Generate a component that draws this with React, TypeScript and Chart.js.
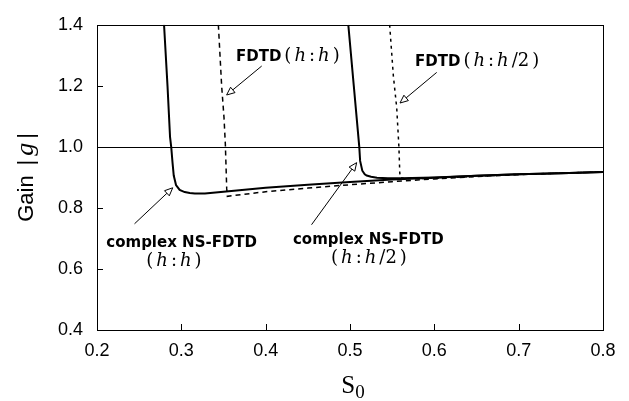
import React, { useEffect, useRef } from "react";
import { Chart, registerables } from "chart.js";

Chart.register(...registerables);

// ---- axes ----
const X_MIN = 0.2;
const X_MAX = 0.8;
const Y_MIN = 0.4;
const Y_MAX = 1.4;
const xTicks = [0.2, 0.3, 0.4, 0.5, 0.6, 0.7, 0.8];
const yTicks = [0.4, 0.6, 0.8, 1.0, 1.2, 1.4];
const REF_LINE = 1.0;

// ---- series ----
// complex NS-FDTD (h:h)  solid
const nsHH_x = [0.2795, 0.2836, 0.2866, 0.288, 0.2895, 0.291, 0.2937, 0.298, 0.304, 0.31, 0.316, 0.328, 0.35, 0.4, 0.45, 0.5, 0.55, 0.6, 0.65, 0.7, 0.75, 0.8];
const nsHH_y = [1.4, 1.2, 1.033, 1.0, 0.95, 0.906, 0.875, 0.859, 0.852, 0.849, 0.847, 0.847, 0.853, 0.866, 0.876, 0.885, 0.893, 0.899, 0.905, 0.91, 0.914, 0.918];

// complex NS-FDTD (h:h/2)  solid
const nsHH2_x = [0.498, 0.5045, 0.511, 0.512, 0.5146, 0.5175, 0.5198, 0.525, 0.532, 0.545, 0.56, 0.6, 0.65, 0.7, 0.75, 0.8];
const nsHH2_y = [1.4, 1.2, 1.0, 0.954, 0.922, 0.91, 0.906, 0.902, 0.899, 0.897, 0.897, 0.9, 0.905, 0.91, 0.914, 0.918];

// FDTD (h:h)  dashed
const fdHH_x = [0.3439, 0.3478, 0.3506, 0.3522, 0.3538, 0.3546, 0.36, 0.4, 0.45, 0.5, 0.55, 0.6, 0.65, 0.7, 0.75, 0.8];
const fdHH_y = [1.4, 1.2, 1.096, 1.008, 0.864, 0.838, 0.84, 0.853, 0.865, 0.876, 0.886, 0.895, 0.903, 0.909, 0.914, 0.918];

// FDTD (h:h/2)  dotted
const fdHH2_x = [0.547, 0.5514, 0.5554, 0.558, 0.559, 0.5595, 0.565, 0.6, 0.65, 0.7, 0.75, 0.8];
const fdHH2_y = [1.4, 1.233, 1.128, 1.0, 0.917, 0.9, 0.896, 0.897, 0.904, 0.91, 0.914, 0.918];

// ---- annotations (data coordinates) ----
const arrowFromX = [0.3953, 0.6028, 0.2445, 0.4544];
const arrowFromY = [1.2649, 1.244, 0.748, 0.745];
const arrowToX = [0.3537, 0.5593, 0.2898, 0.5079];
const arrowToY = [1.17, 1.1437, 0.866, 0.9484];

type Seg = [string, "b" | "r" | "i"];
const labelSegs: Seg[][] = [
  [["FDTD", "b"], ["(", "r"], ["h", "i"], [":", "r"], ["h", "i"], [")", "r"]],
  [["FDTD", "b"], ["(", "r"], ["h", "i"], [":", "r"], ["h", "i"], ["/2", "r"], [")", "r"]],
  [["complex NS-FDTD", "b"]],
  [["(", "r"], ["h", "i"], [":", "r"], ["h", "i"], [")", "r"]],
  [["complex NS-FDTD", "b"]],
  [["(", "r"], ["h", "i"], [":", "r"], ["h", "i"], ["/2", "r"], [")", "r"]],
];
const labelX = [0.3648, 0.5771, 0.3004, 0.2913, 0.5217, 0.5225];
const labelY = [1.2813, 1.2649, 0.6722, 0.6089, 0.6816, 0.6184];
const labelAlign = ["left", "left", "center", "center", "center", "center"];

const FONTS: Record<string, string> = {
  b: 'bold 15px "DejaVu Sans"',
  r: '18px "DejaVu Serif"',
  i: 'italic 18px "DejaVu Serif"',
};

function drawRich(ctx: CanvasRenderingContext2D, segs: Seg[], x: number, y: number, align: string) {
  const widths = segs.map((s) => {
    ctx.font = FONTS[s[1]];
    return ctx.measureText(s[0]).width;
  });
  const gaps = segs.map((s, i) => (i < segs.length - 1 ? 3 : 0));
  const total = widths.reduce((a, b) => a + b, 0) + gaps.reduce((a, b) => a + b, 0);
  let cx = align === "center" ? x - total / 2 : x;
  ctx.textAlign = "left";
  ctx.textBaseline = "alphabetic";
  segs.forEach((s, i) => {
    ctx.font = FONTS[s[1]];
    ctx.fillText(s[0], cx, y);
    cx += widths[i] + gaps[i];
  });
}

const decorPlugin = {
  id: "decor",
  beforeDatasetsDraw(chart: any) {
    const { ctx, chartArea: a, scales } = chart;
    const y = Math.round(scales.y.getPixelForValue(REF_LINE)) + 0.5;
    ctx.save();
    ctx.strokeStyle = "#000";
    ctx.lineWidth = 1;
    ctx.beginPath();
    ctx.moveTo(a.left, y);
    ctx.lineTo(a.right, y);
    ctx.stroke();
    ctx.restore();
  },
  afterDraw(chart: any) {
    const { ctx, chartArea: a, scales } = chart;
    const xs = scales.x;
    const ys = scales.y;
    ctx.save();
    ctx.strokeStyle = "#000";
    ctx.fillStyle = "#000";
    ctx.lineWidth = 1;
    // frame
    ctx.strokeRect(Math.round(a.left) + 0.5, Math.round(a.top) + 0.5, Math.round(a.right - a.left), Math.round(a.bottom - a.top));
    // inward ticks
    ctx.beginPath();
    xTicks.forEach((v) => {
      const px = Math.round(xs.getPixelForValue(v)) + 0.5;
      ctx.moveTo(px, a.bottom);
      ctx.lineTo(px, a.bottom - 6);
    });
    yTicks.forEach((v) => {
      const py = Math.round(ys.getPixelForValue(v)) + 0.5;
      ctx.moveTo(a.left, py);
      ctx.lineTo(a.left + 6, py);
    });
    ctx.stroke();

    // arrows
    arrowFromX.forEach((_, i) => {
      const x1 = xs.getPixelForValue(arrowFromX[i]);
      const y1 = ys.getPixelForValue(arrowFromY[i]);
      const x2 = xs.getPixelForValue(arrowToX[i]);
      const y2 = ys.getPixelForValue(arrowToY[i]);
      const ang = Math.atan2(y2 - y1, x2 - x1);
      const L = 8;
      const W = 3.5;
      const bx = x2 - L * Math.cos(ang);
      const by = y2 - L * Math.sin(ang);
      ctx.beginPath();
      ctx.moveTo(x1, y1);
      ctx.lineTo(bx, by);
      ctx.stroke();
      ctx.beginPath();
      ctx.moveTo(x2, y2);
      ctx.lineTo(bx + W * Math.sin(ang), by - W * Math.cos(ang));
      ctx.lineTo(bx - W * Math.sin(ang), by + W * Math.cos(ang));
      ctx.closePath();
      ctx.fillStyle = "#fff";
      ctx.fill();
      ctx.stroke();
    });

    // labels
    ctx.fillStyle = "#000";
    labelSegs.forEach((segs, i) => {
      drawRich(ctx, segs, xs.getPixelForValue(labelX[i]), ys.getPixelForValue(labelY[i]), labelAlign[i]);
    });

    // y-axis title: Gain |g|
    const cy = (a.top + a.bottom) / 2;
    ctx.save();
    ctx.translate(33, cy);
    ctx.rotate(-Math.PI / 2);
    const tSegs: [string, string, number][] = [
      ["Gain", '22px "Liberation Sans"', 10],
      ["|", '22px "Liberation Sans"', 4],
      ["g", 'italic 26px "Liberation Serif"', 4],
      ["|", '22px "Liberation Sans"', 0],
    ];
    const tw = tSegs.map((s) => {
      ctx.font = s[1];
      return ctx.measureText(s[0]).width;
    });
    const tot = tw.reduce((p, q) => p + q, 0) + tSegs.reduce((p, s) => p + s[2], 0);
    let tx = -tot / 2;
    ctx.textAlign = "left";
    ctx.textBaseline = "alphabetic";
    tSegs.forEach((s, i) => {
      ctx.font = s[1];
      ctx.fillText(s[0], tx, 0);
      tx += tw[i] + s[2];
    });
    ctx.restore();

    // x-axis title: S0
    ctx.textAlign = "left";
    ctx.textBaseline = "alphabetic";
    ctx.font = '25px "Liberation Serif"';
    const sw = ctx.measureText("S").width;
    ctx.font = '19px "Liberation Serif"';
    const zw = ctx.measureText("0").width;
    const sx = (a.left + a.right) / 2 + 3 - (sw + zw) / 2;
    ctx.font = '25px "Liberation Serif"';
    ctx.fillText("S", sx, 393);
    ctx.font = '19px "Liberation Serif"';
    ctx.fillText("0", sx + sw, 398);
    ctx.restore();
  },
};

function pts(xs: number[], ys: number[]) {
  return xs.map((x, i) => ({ x, y: ys[i] }));
}

export default function App() {
  const ref = useRef<HTMLCanvasElement | null>(null);
  useEffect(() => {
    if (!ref.current) return;
    const base = { pointRadius: 0, fill: false, tension: 0, borderColor: "#000" };
    const chart = new Chart(ref.current, {
      type: "line",
      data: {
        datasets: [
          { ...base, label: "FDTD (h:h)", data: pts(fdHH_x, fdHH_y), borderWidth: 1.5, borderDash: [5, 4] },
          { ...base, label: "FDTD (h:h/2)", data: pts(fdHH2_x, fdHH2_y), borderWidth: 1.5, borderDash: [3, 4] },
          { ...base, label: "complex NS-FDTD (h:h)", data: pts(nsHH_x, nsHH_y), borderWidth: 2 },
          { ...base, label: "complex NS-FDTD (h:h/2)", data: pts(nsHH2_x, nsHH2_y), borderWidth: 2 },
        ],
      } as any,
      options: {
        responsive: false,
        animation: false,
        devicePixelRatio: 1,
        layout: { padding: { top: 14, right: 26, left: 0, bottom: 0 } },
        plugins: { legend: { display: false }, tooltip: { enabled: false } },
        scales: {
          x: {
            type: "linear",
            min: X_MIN,
            max: X_MAX,
            afterFit: (s: any) => {
              s.height = 71;
            },
            afterBuildTicks: (s: any) => {
              s.ticks = xTicks.map((v) => ({ value: v }));
            },
            grid: { display: false, drawTicks: false },
            border: { display: false },
            ticks: {
              padding: 10,
              color: "#000",
              maxRotation: 0,
              autoSkip: false,
              font: { family: '"Liberation Sans"', size: 18 },
              callback: (v: any) => Number(v).toFixed(1),
            },
          },
          y: {
            type: "linear",
            min: Y_MIN,
            max: Y_MAX,
            afterFit: (s: any) => {
              s.width = 97;
            },
            afterBuildTicks: (s: any) => {
              s.ticks = yTicks.map((v) => ({ value: v }));
            },
            grid: { display: false, drawTicks: false },
            border: { display: false },
            ticks: {
              padding: 14,
              color: "#000",
              autoSkip: false,
              font: { family: '"Liberation Sans"', size: 18 },
              callback: (v: any) => Number(v).toFixed(1),
            },
          },
        },
      } as any,
      plugins: [decorPlugin],
    });
    return () => chart.destroy();
  }, []);
  return (
    <div style={{ position: "absolute", left: 0, top: 0, width: 629, height: 401, background: "#fff" }}>
      <canvas ref={ref} width={629} height={401} style={{ display: "block" }} />
    </div>
  );
}
